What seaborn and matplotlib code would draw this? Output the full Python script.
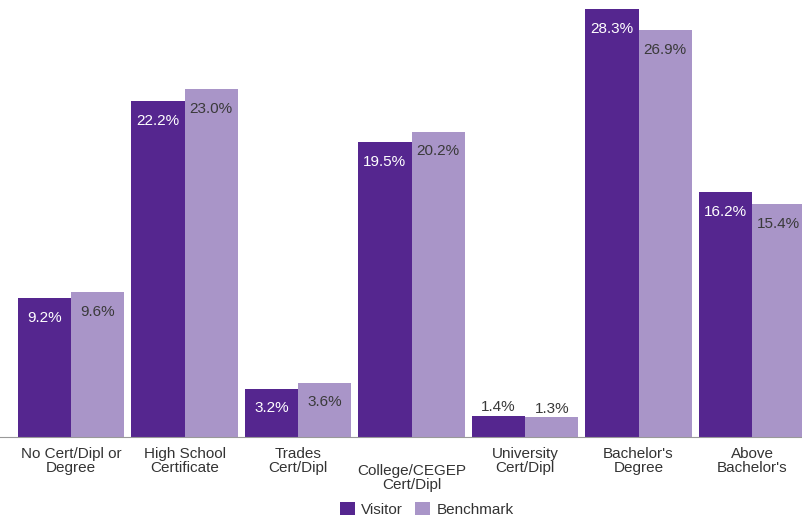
import matplotlib
matplotlib.use("Agg")
import matplotlib.pyplot as plt
import seaborn as sns
import pandas as pd
from matplotlib.patches import Patch
from matplotlib.transforms import ScaledTranslation

categories = [
    "No Cert/Dipl or\nDegree",
    "High School\nCertificate",
    "Trades\nCert/Dipl",
    "College/CEGEP\nCert/Dipl",
    "University\nCert/Dipl",
    "Bachelor's\nDegree",
    "Above\nBachelor's",
]
visitor = [9.2, 22.2, 3.2, 19.5, 1.4, 28.3, 16.2]
benchmark = [9.6, 23.0, 3.6, 20.2, 1.3, 26.9, 15.4]
series_names = ["Visitor", "Benchmark"]
colors = ["#55268F", "#A995C8"]

df = pd.DataFrame({
    "category": categories * 2,
    "value": visitor + benchmark,
    "series": [series_names[0]] * len(categories) + [series_names[1]] * len(categories),
})

sns.set_theme(style="white")
plt.rcParams["font.family"] = ["Liberation Sans", "DejaVu Sans"]

fig = plt.figure(figsize=(8.02, 5.2), dpi=100)
ax = fig.add_axes([0.0, 0.1596, 1.0, 0.8404])

sns.barplot(data=df, x="category", y="value", hue="series", palette=colors,
            width=0.94, gap=0, dodge=True, ax=ax, legend=False,
            saturation=1, linewidth=0)

ax.set_xlim(-0.626, 6.44)
ax.set_ylim(0, 28.9)
ax.set_xlabel("")
ax.set_ylabel("")
ax.set_yticks([])
for s in ["top", "right", "left"]:
    ax.spines[s].set_visible(False)
ax.spines["bottom"].set_color("#999999")
ax.spines["bottom"].set_linewidth(0.8)
ax.tick_params(axis="x", length=0, pad=7, labelsize=11, labelcolor="#333333")
for lbl in ax.get_xticklabels():
    lbl.set_linespacing(1.0)
    if lbl.get_text().startswith("College"):
        # this label sits one line lower than its neighbours
        lbl.set_transform(lbl.get_transform() + ScaledTranslation(0, -0.17, fig.dpi_scale_trans))

# value labels: inside the bar near its top, or just above it for short bars
for cont, series_vals, txtcol in zip(ax.containers, [visitor, benchmark], ["white", "#3a3a3a"]):
    for bar, v in zip(cont.patches, series_vals):
        x = bar.get_x() + bar.get_width() / 2
        if v < 2.5:
            ax.text(x, v + 0.1, f"{v:.1f}%", ha="center", va="bottom",
                    color="#3a3a3a", fontsize=11)
        else:
            ax.text(x, v - 1.3, f"{v:.1f}%", ha="center", va="center",
                    color=txtcol, fontsize=11)

handles = [Patch(facecolor=c, edgecolor="none") for c in colors]
fig.legend(handles, series_names, loc="lower center", bbox_to_anchor=(0.532, -0.02),
           ncol=2, frameon=False, fontsize=11, handlelength=1.0, handleheight=1.0,
           handletextpad=0.4, columnspacing=0.8, labelcolor="#333333")

fig.savefig("out.png", dpi=100)
